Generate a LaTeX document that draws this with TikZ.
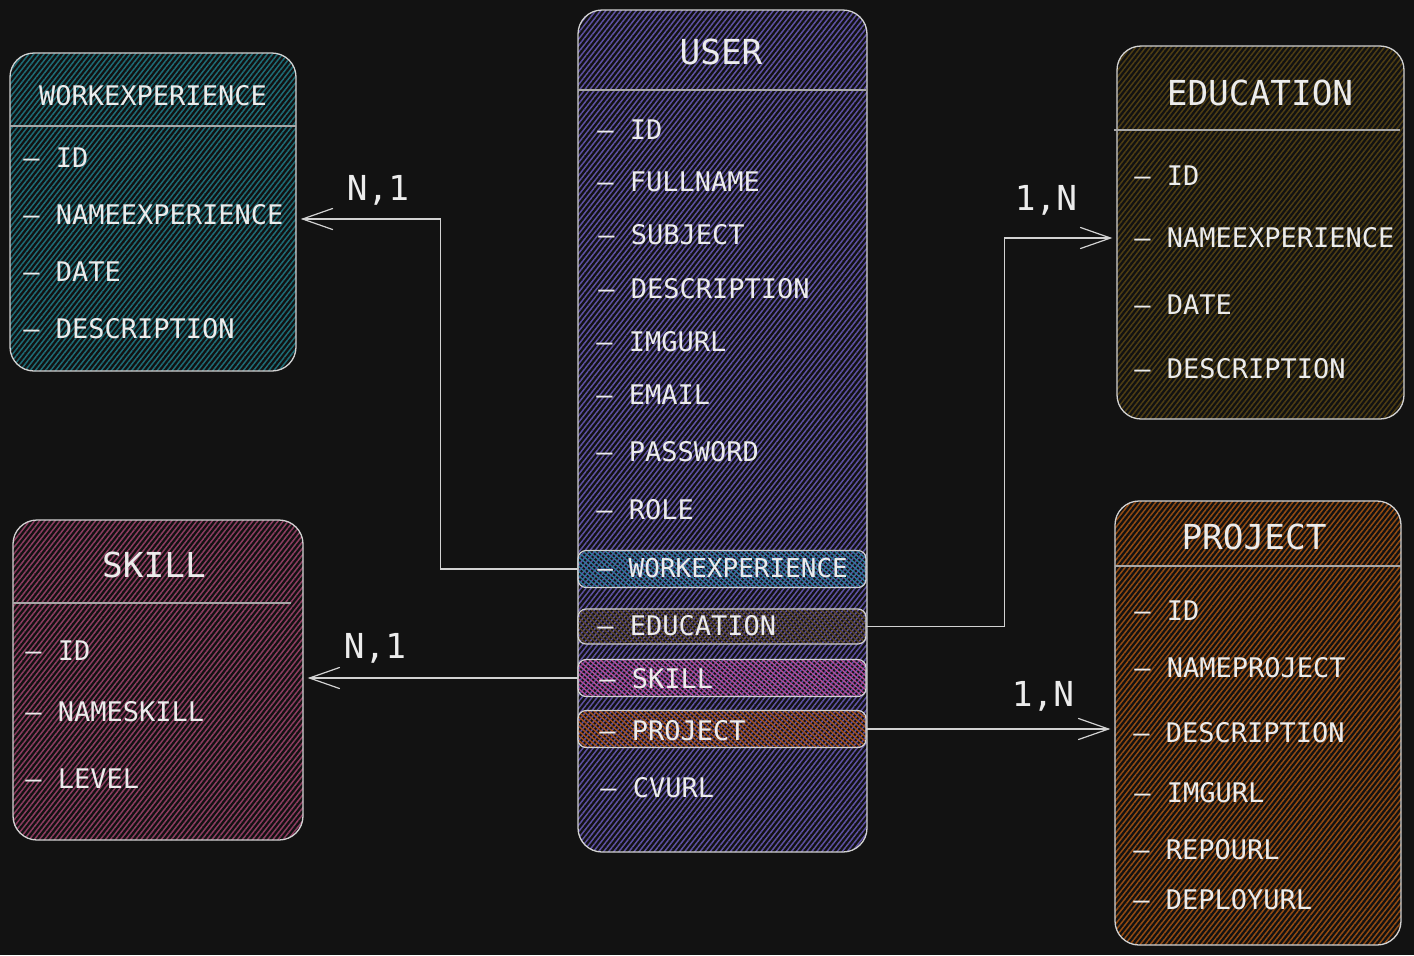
\documentclass[tikz,border=0pt]{standalone}
\usepackage{fontspec}
\setmonofont{DejaVu Sans Mono}
\usetikzlibrary{positioning, arrows.meta, patterns.meta}

\definecolor{bgdark}{HTML}{121212}
\definecolor{inkline}{HTML}{D2D2D2}
\definecolor{textwhite}{HTML}{ECECEC}
\definecolor{workteal}{HTML}{1E6C76}
\definecolor{userpurple}{HTML}{5E51A2}
\definecolor{eduolive}{HTML}{4E3E14}
\definecolor{projorange}{HTML}{934B12}
\definecolor{skillpink}{HTML}{8C3D60}
\definecolor{rowteal}{HTML}{2C7C9C}
\definecolor{rowbrown}{HTML}{5A4628}
\definecolor{rowpink}{HTML}{B84C98}
\definecolor{roworange}{HTML}{A8521A}

\begin{document}
\begin{tikzpicture}[x=0.5pt, y=-0.5pt,
	table/.style={draw=inkline, line width=0.65pt, rectangle, rounded corners=12pt,
		pattern={Lines[angle=52,distance=2pt,line width=0.75pt]}, pattern color=#1},
	userrow/.style={draw=inkline, line width=0.6pt, rectangle, rounded corners=4pt,
		minimum width=144pt, minimum height=18.5pt,
		pattern={Lines[angle=-40,distance=1.8pt,line width=0.7pt]}, pattern color=#1},
	sep/.style={draw=inkline!80!black, line width=0.65pt},
	title/.style={text=textwhite, inner sep=0pt, font=\ttfamily\fontsize{17.2pt}{20pt}\selectfont},
	field/.style={text=textwhite, inner sep=0pt, anchor=west, font=\ttfamily\fontsize{13.5pt}{16pt}\selectfont},
	card/.style={text=textwhite, inner sep=0pt, font=\ttfamily\fontsize{17.2pt}{20pt}\selectfont},
	rel/.style={draw=inkline, line width=0.6pt, line cap=round, shorten >=2pt,
		-{Straight Barb[length=15pt, width=10.5pt, line cap=round]}}]

	\fill[bgdark] (0,0) rectangle (1414,955);

	% WORKEXPERIENCE
	\node (work) at (153,212) [table=workteal, minimum width=143pt, minimum height=159pt]{};
	\node (worktitle) at (153,96) [field, anchor=center]{WORKEXPERIENCE};
	\draw[sep] (10,126) -- (296,126);
	\node (wf1) at (23,158) [field]{\textendash{} ID};
	\node (wf2) at (23,215) [field]{\textendash{} NAMEEXPERIENCE};
	\node (wf3) at (23,272) [field]{\textendash{} DATE};
	\node (wf4) at (23,329) [field]{\textendash{} DESCRIPTION};

	% SKILL
	\node (skill) at (158,680) [table=skillpink, minimum width=145pt, minimum height=160pt]{};
	\node (skilltitle) at (154,565) [title]{SKILL};
	\draw[sep] (13,603) -- (291,603);
	\node (sf1) at (25,651) [field]{\textendash{} ID};
	\node (sf2) at (25,712) [field]{\textendash{} NAMESKILL};
	\node (sf3) at (25,779) [field]{\textendash{} LEVEL};

	% USER
	\node (user) at (722.5,431) [table=userpurple, minimum width=144.5pt, minimum height=421pt]{};
	\node (usertitle) at (721,52) [title]{USER};
	\draw[sep] (578,90) -- (866,90);
	\node (uf1) at (597,130) [field]{\textendash{} ID};
	\node (uf2) at (597,182) [field]{\textendash{} FULLNAME};
	\node (uf3) at (598,235) [field]{\textendash{} SUBJECT};
	\node (uf4) at (598,289) [field]{\textendash{} DESCRIPTION};
	\node (uf5) at (596,342) [field]{\textendash{} IMGURL};
	\node (uf6) at (596,395) [field]{\textendash{} EMAIL};
	\node (uf7) at (596,452) [field]{\textendash{} PASSWORD};
	\node (uf8) at (596,510) [field]{\textendash{} ROLE};

	\node (uwork) at (722,569) [userrow=rowteal]{};
	\node (uedu) at (722,626.5) [userrow=rowbrown, minimum height=17.5pt]{};
	\node (uskill) at (722,678) [userrow=rowpink]{};
	\node (uproj) at (722,729) [userrow=roworange]{};
	\node (uf9) at (597,568) [field, font=\ttfamily\fontsize{13pt}{16pt}\selectfont]{\textendash{} WORKEXPERIENCE};
	\node (uf10) at (597,626) [field]{\textendash{} EDUCATION};
	\node (uf11) at (599,679) [field]{\textendash{} SKILL};
	\node (uf12) at (599,731) [field]{\textendash{} PROJECT};
	\node (uf13) at (600,788) [field]{\textendash{} CVURL};

	% EDUCATION
	\node (edu) at (1260.5,232.5) [table=eduolive, minimum width=143.5pt, minimum height=186.5pt]{};
	\node (edutitle) at (1260,93) [title]{EDUCATION};
	\draw[sep] (1114,130) -- (1400,130);
	\node (ef1) at (1134,176) [field]{\textendash{} ID};
	\node (ef2) at (1134,238) [field]{\textendash{} NAMEEXPERIENCE};
	\node (ef3) at (1134,305) [field]{\textendash{} DATE};
	\node (ef4) at (1134,369) [field]{\textendash{} DESCRIPTION};

	% PROJECT
	\node (proj) at (1258,723) [table=projorange, minimum width=143pt, minimum height=222pt]{};
	\node (projtitle) at (1254,537) [title]{PROJECT};
	\draw[sep] (1115,566) -- (1401,566);
	\node (pf1) at (1134,611) [field]{\textendash{} ID};
	\node (pf2) at (1134,668) [field]{\textendash{} NAMEPROJECT};
	\node (pf3) at (1133,733) [field]{\textendash{} DESCRIPTION};
	\node (pf4) at (1134,793) [field]{\textendash{} IMGURL};
	\node (pf5) at (1133,850) [field]{\textendash{} REPOURL};
	\node (pf6) at (1133,900) [field]{\textendash{} DEPLOYURL};

	% relations
	\draw[rel] (uwork.west) -- ++(-137,0) |- ([yshift=-3.5pt]work.east);
	\draw[rel] (uskill.west) -- (skill.east |- uskill.west);
	\draw[rel] (uedu.east) -- ++(138,0) |- ([yshift=-2.75pt]edu.west);
	\draw[rel] (uproj.east) -- (proj.west |- uproj.east);

	\node (card1) at (378,190) [card]{N,1};
	\node (card2) at (375,648) [card]{N,1};
	\node (card3) at (1046,200) [card]{1,N};
	\node (card4) at (1043,696) [card]{1,N};

\end{tikzpicture}
\end{document}
